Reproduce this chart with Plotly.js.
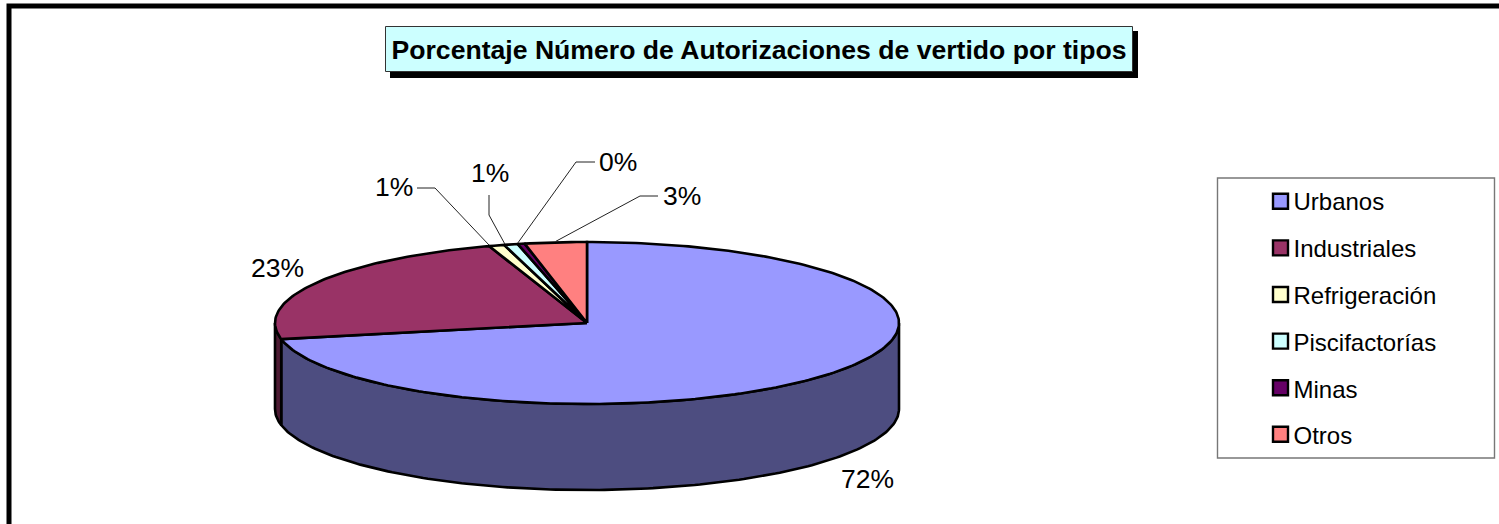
<!DOCTYPE html>
<html><head><meta charset="utf-8">
<script src="https://cdn.plot.ly/plotly-3.0.1.min.js"></script>
<style>html,body{margin:0;padding:0;background:#fff;overflow:hidden}</style>
</head><body><div id="chart" style="width:1499px;height:524px"></div>
<script>
const categories = ["Urbanos","Industriales","Refrigeración","Piscifactorías","Minas","Otros"];
const shares = [71.8,23.1,0.8,0.72,0.36,3.2];
const topColors = ["#9999FF","#993366","#FFFFCC","#CCFFFF","#660066","#FF8080"];
const sideColors = ["#4D4D80","#4D1A33","#808066","#668080","#330033","#804040"];
const titleText = "Porcentaje Número de Autorizaciones de vertido por tipos";

const FONT = "Liberation Sans, Arial, sans-serif";
const CX=587, CY=323, RX=312, RY=81, DEPTH=86;
const W=1499, H=524;
const KEY_X=1280.5, KEY_Y0=201.3, KEY_DY=46.6;
const total = shares.reduce((a,b)=>a+b,0);
const pt=(deg,dz=0)=>{const r=deg*Math.PI/180;return [CX+RX*Math.sin(r),CY-RY*Math.cos(r)+dz];};
let acc=0;
const spans=shares.map(v=>{const a=acc/total*360;acc+=v;return [a,acc/total*360];});
function arc(a,b,dz){const out=[];const n=Math.max(2,Math.ceil(Math.abs(b-a)));for(let i=0;i<=n;i++)out.push(pt(a+(b-a)*i/n,dz));return out;}

const traces=[];
// side walls (only the front half of the ellipse is visible: 90°..270°)
spans.forEach(([a,b],i)=>{
  const s=Math.max(a,90),e=Math.min(b,270);
  if(e<=s)return;
  const poly=arc(s,e,0).concat(arc(e,s,DEPTH));poly.push(poly[0]);
  traces.push({x:poly.map(p=>p[0]),y:poly.map(p=>p[1]),mode:"lines",fill:"toself",fillcolor:sideColors[i],
    line:{color:"#000",width:2.6},showlegend:false,hoverinfo:"skip"});
});
// top face
spans.forEach(([a,b],i)=>{
  const poly=[[CX,CY]].concat(arc(a,b,0));poly.push([CX,CY]);
  traces.push({x:poly.map(p=>p[0]),y:poly.map(p=>p[1]),mode:"lines",fill:"toself",fillcolor:topColors[i],
    line:{color:"#000",width:2.6},showlegend:false,name:categories[i],hoverinfo:"skip"});
});
// leader lines
const labelCenters=[[867,479],[277,268],[394,187],[490,173],[618,162],[682,196]];
const leaderKnees=[null,null,[[417,188],[435,188]],[[489,195],[489,215]],[[595,162],[576,162]],[[658,196],[640,196]]];
const leaderFrac=[.5,.5,0,.05,0,.5];
spans.forEach(([a,b],i)=>{
  if(!leaderKnees[i])return;
  const end=pt(a+(b-a)*leaderFrac[i]);
  const pts=leaderKnees[i].concat([[end[0],end[1]-1]]);
  traces.push({x:pts.map(p=>p[0]),y:pts.map(p=>p[1]),mode:"lines",line:{color:"#222",width:1},showlegend:false,hoverinfo:"skip"});
});
// legend: text from the library's legend, swatches placed beside it (the legend's own symbol gap is too wide)
categories.forEach((c,i)=>{
  traces.push({x:[null],y:[null],mode:"lines",name:c,legendgroup:c,line:{color:"rgba(0,0,0,0)",width:0}});
  traces.push({x:[KEY_X],y:[KEY_Y0+i*KEY_DY],mode:"markers",legendgroup:c,showlegend:false,hoverinfo:"skip",
    marker:{symbol:"square",size:15,color:topColors[i],line:{color:"#000",width:2.4}}});
});

const annotations=shares.map((v,i)=>({x:labelCenters[i][0],y:labelCenters[i][1],xref:"x",yref:"y",
  text:Math.round(v)+"%",showarrow:false,xanchor:"center",yanchor:"middle",font:{family:FONT,size:26.5,color:"#000"}}));

const rect=(x0,y0,x1,y1,fill,lc,lw)=>({type:"rect",xref:"x",yref:"y",x0,y0,x1,y1,fillcolor:fill,line:{color:lc,width:lw},layer:"below"});
const layout={
  width:W,height:H,margin:{l:0,r:0,t:0,b:0},paper_bgcolor:"#fff",plot_bgcolor:"#fff",
  xaxis:{range:[0,W],visible:false,fixedrange:true},
  yaxis:{range:[H,0],visible:false,fixedrange:true},
  title:{text:"<b>"+titleText+"</b>",x:759/W,xanchor:"center",y:1-50/H,yanchor:"middle",font:{family:FONT,size:26.6,color:"#000"}},
  shapes:[
    rect(9,6,W+20,H+20,"rgba(0,0,0,0)","#000",5),
    rect(390,31,1138,78,"#000","#000",0),
    rect(385.5,26.5,1132.5,71.5,"#CCFFFF","#333",1),
    rect(1217.5,178,1494.5,458,"#fff","#777",1.4)
  ],
  legend:{x:1218.5/W,xanchor:"left",y:1-178.5/H,yanchor:"top",bgcolor:"rgba(0,0,0,0)",borderwidth:0,
    font:{family:FONT,size:24,color:"#000"},indentation:35,tracegroupgap:12.7,itemclick:false,itemdoubleclick:false},
  showlegend:true,hovermode:false,annotations
};
Plotly.newPlot("chart",traces,layout,{displayModeBar:false,staticPlot:true});
</script></body></html>
